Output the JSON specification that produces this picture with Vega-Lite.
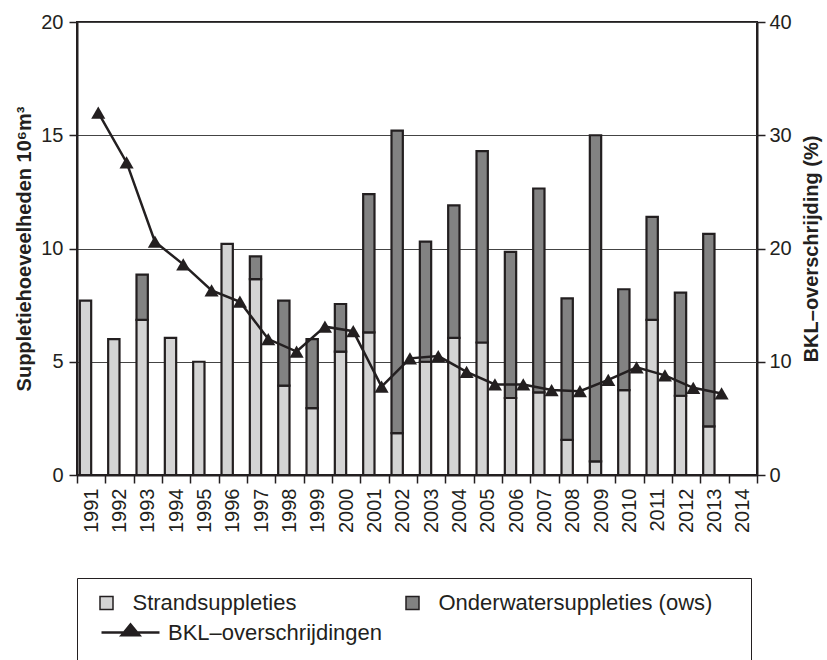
{
  "$schema": "https://vega.github.io/schema/vega-lite/v6.json",
  "width": 680,
  "height": 453,
  "autosize": "none",
  "padding": {"left": 77, "top": 22, "right": 70, "bottom": 185},
  "config": {
    "font": "Liberation Sans",
    "view": {"stroke": "#231f20", "strokeWidth": 2},
    "axis": {
      "labelFont": "Liberation Sans",
      "labelFontSize": 20,
      "labelColor": "#231f20",
      "titleFont": "Liberation Sans",
      "titleFontSize": 20,
      "titleFontWeight": "bold",
      "titleColor": "#231f20",
      "domainColor": "#231f20",
      "domainWidth": 2,
      "tickColor": "#231f20",
      "tickWidth": 1.5,
      "tickSize": 8,
      "gridColor": "#444444",
      "gridWidth": 1
    },
    "legend": {
      "labelFont": "Liberation Sans",
      "labelFontSize": 22,
      "labelColor": "#231f20",
      "labelLimit": 400
    }
  },
  "datasets": {
    "bars": [
      {"year": 1991, "type": "Strandsuppleties", "value": 7.7},
      {"year": 1992, "type": "Strandsuppleties", "value": 6.0},
      {"year": 1993, "type": "Strandsuppleties", "value": 6.85},
      {"year": 1993, "type": "Onderwatersuppleties (ows)", "value": 2.0},
      {"year": 1994, "type": "Strandsuppleties", "value": 6.05},
      {"year": 1995, "type": "Strandsuppleties", "value": 5.0},
      {"year": 1996, "type": "Strandsuppleties", "value": 10.2},
      {"year": 1997, "type": "Strandsuppleties", "value": 8.65},
      {"year": 1997, "type": "Onderwatersuppleties (ows)", "value": 1.0},
      {"year": 1998, "type": "Strandsuppleties", "value": 3.95},
      {"year": 1998, "type": "Onderwatersuppleties (ows)", "value": 3.75},
      {"year": 1999, "type": "Strandsuppleties", "value": 2.95},
      {"year": 1999, "type": "Onderwatersuppleties (ows)", "value": 3.05},
      {"year": 2000, "type": "Strandsuppleties", "value": 5.45},
      {"year": 2000, "type": "Onderwatersuppleties (ows)", "value": 2.1},
      {"year": 2001, "type": "Strandsuppleties", "value": 6.3},
      {"year": 2001, "type": "Onderwatersuppleties (ows)", "value": 6.1},
      {"year": 2002, "type": "Strandsuppleties", "value": 1.85},
      {"year": 2002, "type": "Onderwatersuppleties (ows)", "value": 13.35},
      {"year": 2003, "type": "Strandsuppleties", "value": 5.0},
      {"year": 2003, "type": "Onderwatersuppleties (ows)", "value": 5.3},
      {"year": 2004, "type": "Strandsuppleties", "value": 6.05},
      {"year": 2004, "type": "Onderwatersuppleties (ows)", "value": 5.85},
      {"year": 2005, "type": "Strandsuppleties", "value": 5.85},
      {"year": 2005, "type": "Onderwatersuppleties (ows)", "value": 8.45},
      {"year": 2006, "type": "Strandsuppleties", "value": 3.4},
      {"year": 2006, "type": "Onderwatersuppleties (ows)", "value": 6.45},
      {"year": 2007, "type": "Strandsuppleties", "value": 3.65},
      {"year": 2007, "type": "Onderwatersuppleties (ows)", "value": 9.0},
      {"year": 2008, "type": "Strandsuppleties", "value": 1.55},
      {"year": 2008, "type": "Onderwatersuppleties (ows)", "value": 6.25},
      {"year": 2009, "type": "Strandsuppleties", "value": 0.6},
      {"year": 2009, "type": "Onderwatersuppleties (ows)", "value": 14.4},
      {"year": 2010, "type": "Strandsuppleties", "value": 3.75},
      {"year": 2010, "type": "Onderwatersuppleties (ows)", "value": 4.45},
      {"year": 2011, "type": "Strandsuppleties", "value": 6.85},
      {"year": 2011, "type": "Onderwatersuppleties (ows)", "value": 4.55},
      {"year": 2012, "type": "Strandsuppleties", "value": 3.5},
      {"year": 2012, "type": "Onderwatersuppleties (ows)", "value": 4.55},
      {"year": 2013, "type": "Strandsuppleties", "value": 2.15},
      {"year": 2013, "type": "Onderwatersuppleties (ows)", "value": 8.5}
    ],
    "bkl": [
      {"year": 1991, "bkl": 32.0},
      {"year": 1992, "bkl": 27.6},
      {"year": 1993, "bkl": 20.6},
      {"year": 1994, "bkl": 18.6},
      {"year": 1995, "bkl": 16.3},
      {"year": 1996, "bkl": 15.3},
      {"year": 1997, "bkl": 12.0},
      {"year": 1998, "bkl": 10.9},
      {"year": 1999, "bkl": 13.1},
      {"year": 2000, "bkl": 12.7},
      {"year": 2001, "bkl": 7.8},
      {"year": 2002, "bkl": 10.3},
      {"year": 2003, "bkl": 10.5},
      {"year": 2004, "bkl": 9.1},
      {"year": 2005, "bkl": 8.0},
      {"year": 2006, "bkl": 8.0},
      {"year": 2007, "bkl": 7.5},
      {"year": 2008, "bkl": 7.4},
      {"year": 2009, "bkl": 8.4},
      {"year": 2010, "bkl": 9.5},
      {"year": 2011, "bkl": 8.8},
      {"year": 2012, "bkl": 7.7},
      {"year": 2013, "bkl": 7.2}
    ]
  },
  "layer": [
    {
      "data": {"name": "bars"},
      "mark": {"type": "bar", "width": {"band": 0.8}, "stroke": "#231f20", "strokeWidth": 2.2},
      "encoding": {
        "x": {
          "field": "year", "type": "ordinal",
          "scale": {"domain": [1991,1992,1993,1994,1995,1996,1997,1998,1999,2000,2001,2002,2003,2004,2005,2006,2007,2008,2009,2010,2011,2012,2013,2014], "paddingInner": 0, "paddingOuter": 0},
          "axis": {"title": null, "labelAngle": 270, "tickBand": "extent", "labelPadding": 5, "grid": false}
        },
        "xOffset": {"datum": "a", "scale": {"domain": ["a", "b"], "paddingInner": 0, "paddingOuter": 0}},
        "y": {
          "field": "value", "type": "quantitative", "aggregate": "sum", "stack": "zero",
          "scale": {"domain": [0, 20]},
          "axis": {"title": "Suppletiehoeveelheden 10⁶m³", "values": [0, 5, 10, 15, 20], "grid": true, "labelPadding": 6, "titlePadding": 6}
        },
        "fill": {
          "field": "type", "type": "nominal",
          "scale": {"domain": ["Strandsuppleties", "Onderwatersuppleties (ows)"], "range": ["#d4d4d4", "#828282"]},
          "legend": {
            "title": " ",
            "titleOrient": "right",
            "titleFontSize": 66,
            "titlePadding": 25,
            "titleBaseline": "top",
            "titleAnchor": "start",
            "orient": "none",
            "direction": "horizontal",
            "legendX": 0,
            "legendY": 556,
            "columns": 2,
            "columnPadding": 100,
            "padding": 14,
            "strokeColor": "#231f20",
            "symbolType": "square",
            "symbolSize": 169,
            "symbolOffset": 4.5,
            "labelOffset": 15,
            "symbolStrokeColor": "#231f20",
            "symbolStrokeWidth": 1.5,
            "symbolOpacity": 1
          }
        },
        "order": {"field": "type", "sort": "descending"}
      }
    },
    {
      "data": {"name": "bkl"},
      "layer": [
        {
          "mark": {"type": "line", "strokeWidth": 2.5},
          "encoding": {
            "x": {"field": "year", "type": "ordinal", "bandPosition": 0.75},
            "y": {"field": "bkl", "type": "quantitative"},
            "stroke": {
              "datum": "BKL–overschrijdingen",
              "scale": {"range": ["#231f20"]},
              "legend": {
                "title": null,
                "orient": "none",
                "legendX": 23,
                "legendY": 580,
                "padding": 0,
                "symbolType": "M-1,0H1M-0.31,0.1L0,-0.28L0.31,0.1Z",
                "symbolSize": 3364,
                "symbolStrokeWidth": 2.4,
                "symbolFillColor": "#231f20",
                "symbolOpacity": 1,
                "labelOffset": 7
              }
            }
          }
        },
        {
          "mark": {"type": "point", "shape": "triangle-up", "filled": true, "size": 200, "opacity": 1, "color": "#231f20"},
          "encoding": {
            "x": {"field": "year", "type": "ordinal", "bandPosition": 0.75},
            "y": {
              "field": "bkl", "type": "quantitative",
              "scale": {"domain": [0, 40]},
              "axis": {"orient": "right", "title": "BKL–overschrijding (%)", "values": [0, 10, 20, 30, 40], "grid": false, "labelPadding": 4, "titlePadding": 10, "titleAngle": 270, "titleBaseline": "top"}
            }
          }
        }
      ]
    }
  ],
  "resolve": {"scale": {"y": "independent"}}
}
